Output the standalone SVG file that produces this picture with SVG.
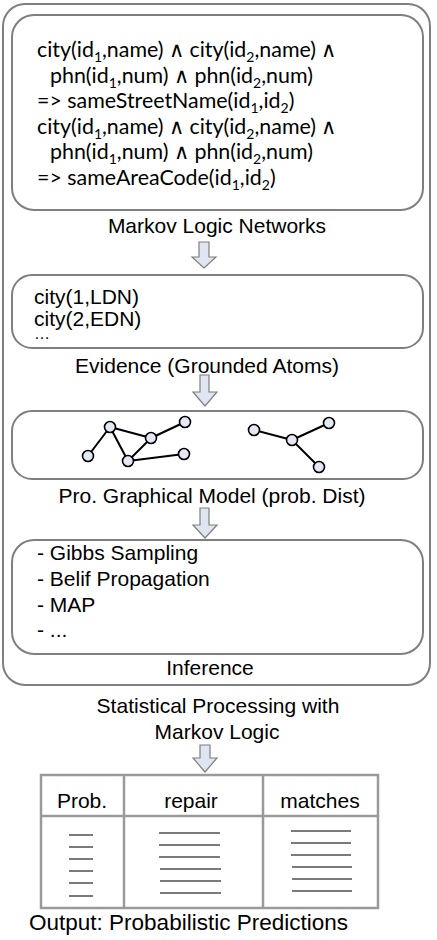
<svg xmlns="http://www.w3.org/2000/svg" width="437" height="940" viewBox="0 0 437 940">
<defs>
<style>
.box{fill:#fff;stroke:#7f7f7f;stroke-width:2}
.lbl{font-family:"Liberation Sans",Arial,sans-serif;font-size:21px;fill:#000}
.mln{font-family:Lato,"Open Sans",sans-serif;font-size:21.4px;fill:#000}
.sub{font-size:14px}
.arrow{fill:#dfe6f1;stroke:#7f7f7f;stroke-width:1.2;stroke-linejoin:miter}
.edge{stroke:#000;stroke-width:2;fill:none}
.node{fill:#e3e8f3;stroke:#000;stroke-width:1.6}
.tb{fill:none;stroke:#9a9a9a;stroke-width:2.5}
.row{stroke:#7a7a7a;stroke-width:2}
</style>
</defs>
<g id="outer">
<rect class="box" x="3" y="4" width="427" height="681" rx="22"/>
<text class="lbl" x="210" y="675" text-anchor="middle">Inference</text>
</g>
<g id="mln">
<rect class="box" x="12" y="15" width="411" height="195" rx="22"/>
<text class="mln" x="37" y="57">city(id<tspan class="sub" dy="5">1</tspan><tspan dy="-5">,name) ∧ city(id</tspan><tspan class="sub" dy="5">2</tspan><tspan dy="-5">,name) ∧</tspan></text>
<text class="mln" x="50" y="82.5">phn(id<tspan class="sub" dy="5">1</tspan><tspan dy="-5">,num) ∧ phn(id</tspan><tspan class="sub" dy="5">2</tspan><tspan dy="-5">,num)</tspan></text>
<text class="mln" x="37" y="108">=&gt; sameStreetName(id<tspan class="sub" dy="5">1</tspan><tspan dy="-5">,id</tspan><tspan class="sub" dy="5">2</tspan><tspan dy="-5">)</tspan></text>
<text class="mln" x="37" y="133.5">city(id<tspan class="sub" dy="5">1</tspan><tspan dy="-5">,name) ∧ city(id</tspan><tspan class="sub" dy="5">2</tspan><tspan dy="-5">,name) ∧</tspan></text>
<text class="mln" x="50" y="159">phn(id<tspan class="sub" dy="5">1</tspan><tspan dy="-5">,num) ∧ phn(id</tspan><tspan class="sub" dy="5">2</tspan><tspan dy="-5">,num)</tspan></text>
<text class="mln" x="37" y="184.5">=&gt; sameAreaCode(id<tspan class="sub" dy="5">1</tspan><tspan dy="-5">,id</tspan><tspan class="sub" dy="5">2</tspan><tspan dy="-5">)</tspan></text>
<text class="lbl" x="217" y="233" text-anchor="middle">Markov Logic Networks</text>
</g>
<g id="evidence">
<rect class="box" x="12" y="275" width="411" height="73" rx="20"/>
<text class="lbl" x="34" y="304">city(1,LDN)</text>
<text class="lbl" x="34" y="326">city(2,EDN)</text>
<text class="lbl" x="34" y="339" style="font-size:16px">…</text>
<text class="lbl" x="207" y="373" text-anchor="middle">Evidence (Grounded Atoms)</text>
</g>
<g id="pgm">
<rect class="box" x="12" y="411" width="411" height="68" rx="20"/>
<line class="edge" x1="88" y1="456" x2="110" y2="427"/>
<line class="edge" x1="110" y1="427" x2="151" y2="438"/>
<line class="edge" x1="110" y1="427" x2="128" y2="461"/>
<line class="edge" x1="128" y1="461" x2="151" y2="438"/>
<line class="edge" x1="151" y1="438" x2="185" y2="422"/>
<line class="edge" x1="128" y1="461" x2="184" y2="454"/>
<line class="edge" x1="254" y1="430" x2="292" y2="440"/>
<line class="edge" x1="292" y1="440" x2="329" y2="423"/>
<line class="edge" x1="292" y1="440" x2="319" y2="467"/>
<circle class="node" cx="88" cy="456" r="5.5"/>
<circle class="node" cx="110" cy="427" r="5.5"/>
<circle class="node" cx="151" cy="438" r="5.5"/>
<circle class="node" cx="128" cy="461" r="5.5"/>
<circle class="node" cx="185" cy="422" r="5.5"/>
<circle class="node" cx="184" cy="454" r="5.5"/>
<circle class="node" cx="254" cy="430" r="5.5"/>
<circle class="node" cx="292" cy="440" r="5.5"/>
<circle class="node" cx="329" cy="423" r="5.5"/>
<circle class="node" cx="319" cy="467" r="5.5"/>
<text class="lbl" x="212" y="503" text-anchor="middle">Pro. Graphical Model (prob. Dist)</text>
</g>
<g id="inference">
<rect class="box" x="12" y="540" width="411" height="114" rx="22"/>
<text class="lbl" x="37" y="560">- Gibbs Sampling</text>
<text class="lbl" x="37" y="586">- Belif Propagation</text>
<text class="lbl" x="37" y="612">- MAP</text>
<text class="lbl" x="37" y="637">- ...</text>
</g>
<g id="statlabel">
<text class="lbl" x="218" y="713" text-anchor="middle">Statistical Processing with</text>
<text class="lbl" x="217" y="739" text-anchor="middle">Markov Logic</text>
</g>
<g id="connectors">
<path class="arrow" d="M199,242 H209 V257 H216 L204,268 L192,257 H199 Z"/>
<path class="arrow" d="M200,375 H209 V392 H217 L205,406 L193,392 H200 Z"/>
<path class="arrow" d="M200,508 H209 V525 H217 L205,538 L193,525 H200 Z"/>
<path class="arrow" d="M200,745 H210 V758 H217 L205,772 L193,758 H200 Z"/>
</g>
<g id="output">
<rect class="tb" x="41" y="775" width="337" height="133"/>
<line class="tb" x1="41" y1="816" x2="378" y2="816"/>
<line class="tb" x1="124" y1="775" x2="124" y2="908"/>
<line class="tb" x1="263" y1="775" x2="263" y2="908"/>
<text class="lbl" x="82" y="808" text-anchor="middle">Prob.</text>
<text class="lbl" x="191" y="808" text-anchor="middle">repair</text>
<text class="lbl" x="320" y="808" text-anchor="middle">matches</text>
<g class="row">
<line x1="69" y1="835" x2="93" y2="835"/>
<line x1="69" y1="847" x2="93" y2="847"/>
<line x1="69" y1="859" x2="93" y2="859"/>
<line x1="69" y1="871" x2="93" y2="871"/>
<line x1="69" y1="883" x2="93" y2="883"/>
<line x1="69" y1="896" x2="93" y2="896"/>
<line x1="159" y1="833" x2="220" y2="833"/>
<line x1="159" y1="845" x2="220" y2="845"/>
<line x1="159" y1="857" x2="220" y2="857"/>
<line x1="160" y1="869" x2="221" y2="869"/>
<line x1="160" y1="881" x2="221" y2="881"/>
<line x1="160" y1="893" x2="221" y2="893"/>
<line x1="291" y1="831" x2="351" y2="831"/>
<line x1="291" y1="843" x2="351" y2="843"/>
<line x1="291" y1="855" x2="351" y2="855"/>
<line x1="292" y1="867" x2="352" y2="867"/>
<line x1="292" y1="879" x2="352" y2="879"/>
<line x1="292" y1="891" x2="352" y2="891"/>
</g>
<text class="lbl" x="188.5" y="930" text-anchor="middle" style="font-size:22.5px">Output: Probabilistic Predictions</text>
</g>
</svg>
